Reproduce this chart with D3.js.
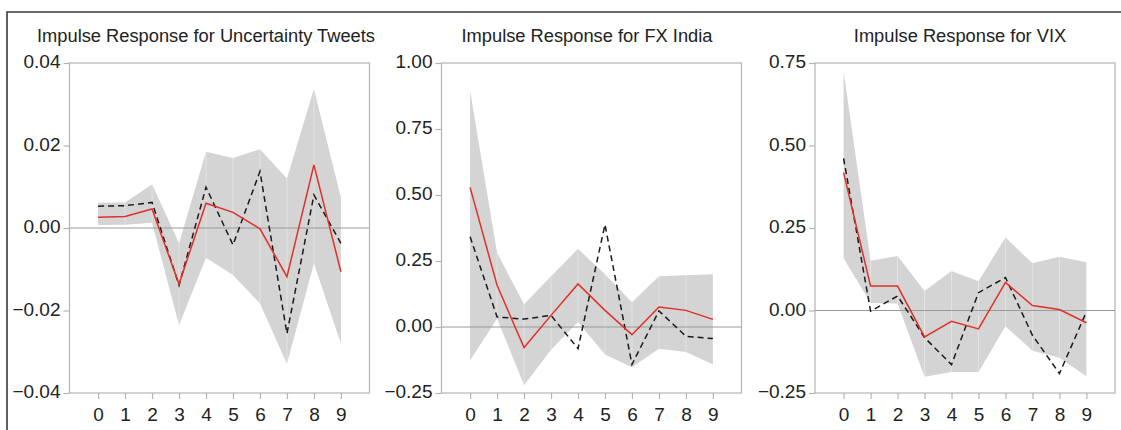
<!DOCTYPE html>
<html>
<head>
<meta charset="utf-8">
<script src="https://cdn.jsdelivr.net/npm/d3@7"></script>
<style>
  html, body { margin: 0; padding: 0; background: #fff; }
  svg { display: block; }
  text { font-family: "Liberation Sans", Arial, sans-serif; fill: #222; }
</style>
</head>
<body>
<svg id="chart" width="1121" height="430"></svg>
<script>
// ---------- DATA ----------
const periods = [0, 1, 2, 3, 4, 5, 6, 7, 8, 9];

const titles = [
  "Impulse Response for Uncertainty Tweets",
  "Impulse Response for FX India",
  "Impulse Response for VIX"
];

const yTicksTweets = [-0.04, -0.02, 0.00, 0.02, 0.04];
const yTicksFX     = [-0.25, 0.00, 0.25, 0.50, 0.75, 1.00];
const yTicksVIX    = [-0.25, 0.00, 0.25, 0.50, 0.75];

// Uncertainty Tweets
const tweetsIRF   = [0.0026, 0.0028, 0.0046, -0.0136, 0.0060, 0.0038, -0.0002, -0.0118, 0.0153, -0.0106];
const tweetsAlt   = [0.0053, 0.0054, 0.0062, -0.0139, 0.0099, -0.0041, 0.0137, -0.0256, 0.0080, -0.0037];
const tweetsUpper = [0.0061, 0.0062, 0.0106, -0.0037, 0.0185, 0.0170, 0.0191, 0.0120, 0.0337, 0.0074];
const tweetsLower = [0.0007, 0.0008, 0.0013, -0.0236, -0.0072, -0.0114, -0.0183, -0.0329, -0.0086, -0.0280];

// FX India
const fxIRF   = [0.529, 0.158, -0.078, 0.044, 0.163, 0.063, -0.029, 0.076, 0.063, 0.029];
const fxAlt   = [0.342, 0.038, 0.030, 0.044, -0.082, 0.388, -0.142, 0.061, -0.035, -0.044];
const fxUpper = [0.896, 0.281, 0.086, 0.192, 0.296, 0.200, 0.094, 0.192, 0.196, 0.200];
const fxLower = [-0.127, 0.032, -0.221, -0.086, 0.019, -0.104, -0.152, -0.082, -0.095, -0.142];

// VIX
const vixIRF   = [0.418, 0.074, 0.074, -0.080, -0.033, -0.056, 0.085, 0.015, 0.003, -0.037];
const vixAlt   = [0.461, -0.002, 0.044, -0.082, -0.164, 0.054, 0.100, -0.075, -0.191, -0.004];
const vixUpper = [0.725, 0.151, 0.165, 0.059, 0.120, 0.089, 0.221, 0.143, 0.163, 0.146];
const vixLower = [0.158, 0.023, 0.021, -0.201, -0.186, -0.186, -0.048, -0.122, -0.143, -0.199];

// ---------- LAYOUT ----------
const svg = d3.select("#chart");
const plotTop = 63, plotBottom = 393, plotW = 300;

// outer border (top and left only visible)
svg.append("path")
  .attr("d", "M7,1000 L7,12 L1200,12")
  .attr("fill", "none").attr("stroke", "#3a3a3a").attr("stroke-width", 1.6);

const panels = [
  { title: titles[0], left: 69.5, titleX: 206, ticks: yTicksTweets, fmt: d3.format(".2f"),
    irf: tweetsIRF, alt: tweetsAlt, up: tweetsUpper, lo: tweetsLower },
  { title: titles[1], left: 441.5, titleX: 587, ticks: yTicksFX, fmt: d3.format(".2f"),
    irf: fxIRF, alt: fxAlt, up: fxUpper, lo: fxLower },
  { title: titles[2], left: 815, titleX: 960, ticks: yTicksVIX, fmt: d3.format(".2f"),
    irf: vixIRF, alt: vixAlt, up: vixUpper, lo: vixLower }
];

panels.forEach(p => {
  const g = svg.append("g");
  const x = d3.scaleLinear().domain([-1.06, 10.06]).range([p.left, p.left + plotW]);
  const y = d3.scaleLinear().domain(d3.extent(p.ticks)).range([plotBottom, plotTop]);

  // band
  const rows = periods.map((t, i) => ({ t, up: p.up[i], lo: p.lo[i] }));
  g.append("path")
    .datum(rows)
    .attr("d", d3.area().x(d => x(d.t)).y0(d => y(d.lo)).y1(d => y(d.up)))
    .attr("fill", "#d4d4d4");

  // faint seams in band
  g.selectAll("line.seam").data(rows.slice(1, -1)).enter().append("line")
    .attr("class", "seam")
    .attr("x1", d => x(d.t)).attr("x2", d => x(d.t))
    .attr("y1", d => y(d.up)).attr("y2", d => y(d.lo))
    .attr("stroke", "#ffffff").attr("stroke-opacity", 0.45).attr("stroke-width", 0.8);

  // frame
  g.append("rect")
    .attr("x", p.left).attr("y", plotTop)
    .attr("width", plotW).attr("height", plotBottom - plotTop)
    .attr("fill", "none").attr("stroke", "#b4b4b4").attr("stroke-width", 1.2);

  // zero line
  g.append("line")
    .attr("x1", p.left).attr("x2", p.left + plotW)
    .attr("y1", y(0)).attr("y2", y(0))
    .attr("stroke", "#9a9a9a").attr("stroke-width", 1.2);

  // dashed alternative line
  g.append("path")
    .datum(p.alt)
    .attr("d", d3.line().x((d, i) => x(periods[i])).y(d => y(d)))
    .attr("fill", "none").attr("stroke", "#1a1a1a").attr("stroke-width", 1.5)
    .attr("stroke-dasharray", "6,4");

  // red IRF line
  g.append("path")
    .datum(p.irf)
    .attr("d", d3.line().x((d, i) => x(periods[i])).y(d => y(d)))
    .attr("fill", "none").attr("stroke", "#e0302a").attr("stroke-width", 1.5);

  // y axis
  const ya = g.append("g")
    .attr("transform", `translate(${p.left},0)`)
    .call(d3.axisLeft(y).tickValues(p.ticks).tickFormat(p.fmt).tickSize(6).tickPadding(3).tickSizeOuter(0));
  ya.select(".domain").remove();
  ya.selectAll(".tick line").attr("stroke", "#b4b4b4").attr("stroke-width", 1.2);
  ya.selectAll(".tick text").style("font-size", "19px").attr("fill", "#222").attr("dy", "0.25em")
    .style("font-family", "'Liberation Sans', Arial, sans-serif");

  // x axis
  const xa = g.append("g")
    .attr("transform", `translate(0,${plotBottom})`)
    .call(d3.axisBottom(x).tickValues(periods).tickFormat(d3.format("d")).tickSize(6).tickPadding(9).tickSizeOuter(0));
  xa.select(".domain").remove();
  xa.selectAll(".tick line").attr("stroke", "#b4b4b4").attr("stroke-width", 1.2);
  xa.selectAll(".tick text").style("font-size", "19px").attr("fill", "#222")
    .style("font-family", "'Liberation Sans', Arial, sans-serif");

  // title
  g.append("text")
    .attr("x", p.titleX).attr("y", 41.5)
    .attr("text-anchor", "middle")
    .style("font-size", "18.3px")
    .text(p.title);
});
</script>
</body>
</html>
